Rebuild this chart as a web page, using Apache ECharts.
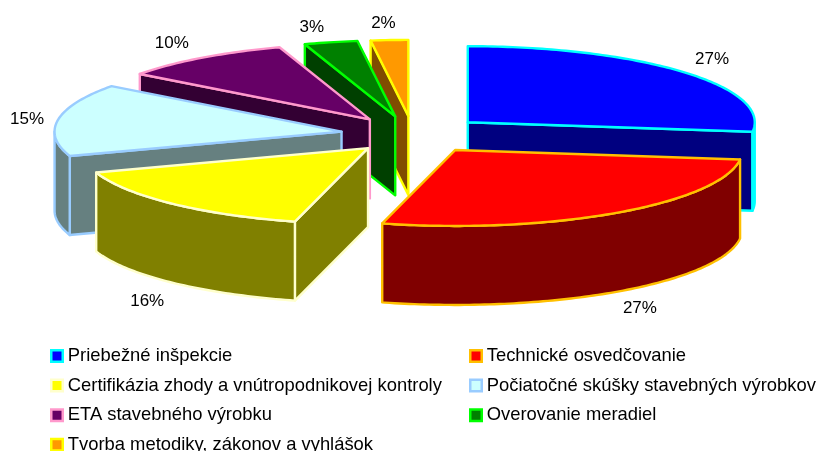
<!DOCTYPE html>
<html>
<head>
<meta charset="utf-8">
<style>html,body{margin:0;padding:0;background:#fff;overflow:hidden}#c{width:819px;height:451px}</style>
<script src="https://cdn.jsdelivr.net/npm/echarts@6/dist/echarts.min.js"></script>
</head>
<body>
<div id="c"></div>
<script>
var categories = ['Priebežné inšpekcie','Technické osvedčovanie','Certifikázia zhody a vnútropodnikovej kontroly','Počiatočné skúšky stavebných výrobkov','ETA stavebného výrobku','Overovanie meradiel','Tvorba metodiky, zákonov a vyhlášok'];
var values = [27,27.1,15.7,15.4,9.7,3,2.1];
var topColors = ['#0000FF','#FF0000','#FFFF00','#CCFFFF','#660066','#008000','#FF9900'];
var wallColors = ['#000080','#800000','#808000','#668080','#330033','#004000','#804C00'];
var borderColors = ['#00FFFF','#FFC000','#FFFFCC','#99CCFF','#FF99CC','#00FF00','#FFFF00'];
var drawOrder = [5,7,6,4,3,2,1]; // z per slice
var labelOffsets = [[29,-13],[25,95],[-24,98],[-35,0],[-34,-14],[-23,-15],[-8,-17]];
var perspectiveShiftX = [0,1,1,-4,-4,-4,-2];

var CX = 415, CY = 134.5, RX = 287, RY = 76, DEPTH = 79, EXPLODE = 0.245;
var FONT = '"Liberation Sans", Arial, sans-serif';
var total = values.reduce(function(a,b){return a+b;},0);

function deg(i){ return values.slice(0,i).reduce(function(a,b){return a+b;},0)/total*360; }
function rim(o,a,k){ var t=a*Math.PI/180; return [o[0]+RX*k*Math.sin(t), o[1]-RY*k*Math.cos(t)]; }
function down(p){ return [p[0],p[1]+DEPTH]; }

function poly(points,fill,stroke,z2){
  return {type:'polygon',z2:z2,shape:{points:points},
    style:{fill:fill,stroke:stroke,lineWidth:2.4,lineJoin:'round'}};
}

function renderSlice(i){
  var a=deg(i), b=deg(i+1), m=(a+b)/2;
  var apex=rim([CX+perspectiveShiftX[i],CY],m,EXPLODE);
  var pA=rim(apex,a,1), pB=rim(apex,b,1);
  var els=[], fill=wallColors[i], st=borderColors[i];
  if(Math.sin(a*Math.PI/180)<0) els.push(poly([apex,pA,down(pA),down(apex)],fill,st,1));
  if(Math.sin(b*Math.PI/180)>0) els.push(poly([apex,pB,down(pB),down(apex)],fill,st,1));
  var w0=Math.max(a,90), w1=Math.min(b,270);
  if(w1>w0){
    var upper=[],lower=[];
    for(var t=w0;t<w1;t+=1){upper.push(rim(apex,t,1));}
    upper.push(rim(apex,w1,1));
    lower=upper.map(down).reverse();
    els.push(poly(upper.concat(lower),fill,st,2));
  }
  var topPts=[apex];
  for(var s=a;s<b;s+=1){topPts.push(rim(apex,s,1));}
  topPts.push(pB);
  els.push(poly(topPts,topColors[i],st,3));
  var anchor=rim([CX,CY],m,1+EXPLODE);
  els.push({type:'text',z2:10,style:{
    x:anchor[0]+labelOffsets[i][0], y:anchor[1]+labelOffsets[i][1],
    text:Math.round(values[i]/total*100)+'%',
    fill:'#000',font:'17px '+FONT,align:'center',verticalAlign:'middle'}});
  return {type:'group',children:els};
}

var series = categories.map(function(name,i){
  return {type:'custom',name:name,coordinateSystem:'none',z:drawOrder[i],silent:true,animation:false,
    data:[[values[i]]],
    itemStyle:{color:topColors[i],borderColor:borderColors[i],borderWidth:2.5},
    renderItem:function(){return renderSlice(i);}};
});

function legendOf(idx,left){
  return {orient:'vertical',left:left,top:342,height:300,itemWidth:11.5,itemHeight:11.5,itemGap:11.6,selectedMode:false,
    icon:'rect',
    textStyle:{fontFamily:FONT,fontSize:18.4,color:'#000'},
    data:idx.map(function(i){return {name:categories[i],icon:'rect',
      itemStyle:{color:topColors[i],borderColor:borderColors[i],borderWidth:2.5}};})};
}

var chart = echarts.init(document.getElementById('c'),null,{renderer:'canvas'});
chart.setOption({
  animation:false,backgroundColor:'#fff',
  legend:[legendOf([0,2,4,6],45),legendOf([1,3,5],464)],
  series:series
});
</script>
</body>
</html>
